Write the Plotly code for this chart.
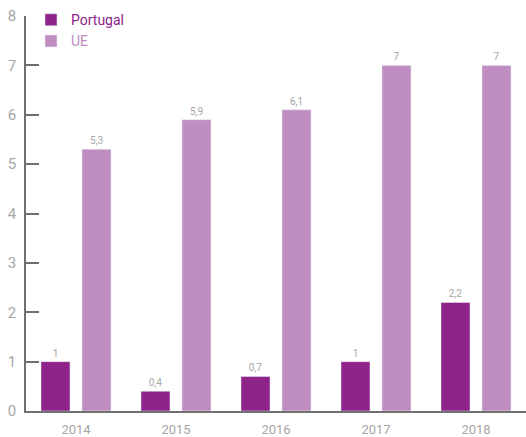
import plotly.graph_objects as go

years = ["2014", "2015", "2016", "2017", "2018"]
portugal = [1, 0.4, 0.7, 1, 2.2]
ue = [5.3, 5.9, 6.1, 7, 7]
y_ticks = [0, 1, 2, 3, 4, 5, 6, 7, 8]

PT_COLOR = "#8e2489"
UE_COLOR = "#bf8dc0"
GRAY = "#a6a6a6"
AXIS = "#707070"


def fmt(v):
    return ("%g" % v).replace(".", ",")

fig = go.Figure()
fig.add_trace(go.Bar(
    x=years, y=portugal, name='<span style="color:%s">Portugal</span>' % PT_COLOR,
    marker_color=PT_COLOR, width=0.29, offset=-0.35,
    text=[fmt(v) for v in portugal], textposition="outside",
    textfont=dict(size=10, color=GRAY), cliponaxis=False,
))
fig.add_trace(go.Bar(
    x=years, y=ue, name='<span style="color:%s">UE</span>' % UE_COLOR,
    marker_color=UE_COLOR, width=0.29, offset=0.06,
    text=[fmt(v) for v in ue], textposition="outside",
    textfont=dict(size=10, color=GRAY), cliponaxis=False,
))

fig.update_layout(
    width=526, height=437,
    barmode="overlay",
    plot_bgcolor="white", paper_bgcolor="white",
    margin=dict(l=26, r=0, t=16, b=26, autoexpand=False),
    font=dict(family="Roboto, sans-serif", color=GRAY),
    showlegend=True,
    legend=dict(x=0.01, y=1.03, xanchor="left", yanchor="top",
                font=dict(size=14), bgcolor="rgba(0,0,0,0)",
                itemwidth=30, tracegroupgap=0),
)
fig.update_xaxes(
    type="category", range=[-0.5, 4.5], automargin=False,
    showline=True, linecolor=AXIS, linewidth=1.5,
    ticks="", tickfont=dict(size=13, color=GRAY), showgrid=False,
    ticklabelstandoff=6,
)
fig.update_yaxes(
    range=[0, 8], tickvals=y_ticks, automargin=False,
    showline=True, linecolor=AXIS, linewidth=1.5,
    ticks="inside", ticklen=13, tickcolor=AXIS, tickwidth=1.5,
    tickfont=dict(size=15, color=GRAY), showgrid=False, zeroline=False,
    ticklabelstandoff=5,
)

fig.write_html("out.html", config={"displayModeBar": False},
               post_script="document.body.style.margin='0';")
